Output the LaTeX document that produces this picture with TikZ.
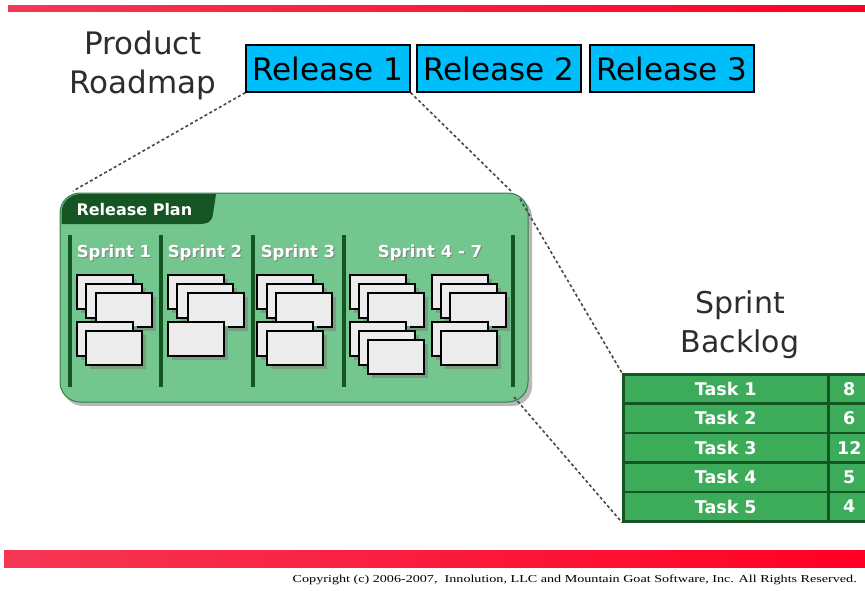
\documentclass[tikz,border=0pt]{standalone}
\usepackage{fontspec}
\setmainfont{DejaVu Sans}
\newfontfamily\copyfont{Liberation Serif}
\usetikzlibrary{calc}

\definecolor{relblue}{RGB}{0,190,250}
\definecolor{plangreen}{RGB}{114,198,142}
\definecolor{planedge}{RGB}{55,125,75}
\definecolor{darkgreen}{RGB}{20,85,35}
\definecolor{taskgreen}{RGB}{60,172,90}
\definecolor{cardfill}{RGB}{236,236,236}
\definecolor{cardshadow}{RGB}{118,158,128}
\definecolor{redL}{RGB}{245,55,85}
\definecolor{redR}{RGB}{255,0,35}
\definecolor{inktext}{RGB}{45,45,45}
\definecolor{dashgray}{RGB}{70,70,70}

% one story card with its drop shadow; #1,#2 = top-left corner
\newcommand\storycard[2]{%
  \fill[cardshadow] ({#1+4},{#2+4}) rectangle ++(56,34);
  \draw[fill=cardfill, line width=1.1pt] (#1,#2) rectangle ++(56,34);
}

\begin{document}
\begin{tikzpicture}[x=1pt,y=-1pt,
  release/.style={draw=black, line width=1.2pt, fill=relblue,
    minimum width=164pt, minimum height=47pt, inner sep=0pt,
    font=\fontsize{31}{31}\selectfont},
  heading/.style={align=center, text=inktext,
    font=\fontsize{31}{39}\selectfont},
  zoomline/.style={draw=dashgray, line width=1.6pt, dash pattern=on 3pt off 2.5pt},
  sprintbar/.style={fill=darkgreen},
  sprintlabel/.style={text=white, font=\bfseries\fontsize{16.5}{16.5}\selectfont},
  sprintshade/.style={text=black!50, font=\bfseries\fontsize{16.5}{16.5}\selectfont},
  taskcell/.style={draw=darkgreen, line width=2.5pt, fill=taskgreen,
    anchor=north west, minimum height=29.4pt, inner sep=0pt, text=white,
    font=\bfseries\fontsize{17.5}{17.5}\selectfont},
]
\useasboundingbox (0,0) rectangle (865,590);
\clip (0,0) rectangle (865,590);

% red rules at top and bottom
\shade[left color=redL, right color=redR] (8,5) rectangle (865,11);
\shade[left color=redL, right color=redR] (4,550) rectangle (865,567);

% product roadmap
\node[heading] (roadmap) at (143,65) {Product\\Roadmap};
\node[release] (r1) at (328,68.5) {Release 1};
\node[release] (r2) at (499,68.5) {Release 2};
\node[release] (r3) at (672,68.5) {Release 3};

% release plan panel
\fill[black!28, rounded corners=20pt] (63,197) rectangle (532,406);
\node[draw=planedge, line width=1pt, fill=plangreen, rounded corners=20pt,
  minimum width=468pt, minimum height=209pt, inner sep=0pt] (rp) at (294,297.5) {};
\fill[darkgreen] (61.5,224) -- (61.5,213)
  arc[start angle=180, end angle=270, radius=19]
  -- (216,194) -- (213,214) .. controls (212,222) and (208,224) .. (198,224) -- cycle;
\node[anchor=west, text=white, font=\bfseries\fontsize{16}{16}\selectfont]
  (rptitle) at (73,210) {Release Plan};

% sprint dividers
\foreach \bx in {70,161,253,344,513}
  \fill[sprintbar] ({\bx-2.2},235) rectangle ({\bx+2.2},387);

% sprint headings
\foreach \sx/\name/\txt in {114/s1/Sprint 1, 205/s2/Sprint 2, 298/s3/Sprint 3, 430/s4/Sprint 4 - 7}{
  \node[sprintshade] at ({\sx+1},254) {\txt};
  \node[sprintlabel] (\name) at (\sx,253) {\txt};
}

% story cards in each sprint
\foreach \cx/\cy in {77/275, 86/284, 96/293, 77/322, 86/331,
                     168/275, 177/284, 188/293, 168/322,
                     257/275, 267/284, 276/293, 257/322, 267/331,
                     350/275, 359/284, 368/293, 350/322, 359/331, 368/340,
                     432/275, 441/284, 450/293, 432/322, 441/331}{
  \storycard{\cx}{\cy}
}

% sprint backlog
\node[heading, font=\fontsize{30}{39}\selectfont] (backlog) at (740,325) {Sprint\\Backlog};
\foreach \i/\pts in {1/8, 2/6, 3/12, 4/5, 5/4}{
  \node[taskcell, minimum width=205pt] (t\i) at (622,{373+(\i-1)*29.4}) {Task \i};
  \node[taskcell, minimum width=42pt] (v\i) at (827,{373+(\i-1)*29.4}) {\pts};
}

% zoom connectors
\coordinate (rpTL) at (73,191);
\coordinate (rpTR) at (512,192);
\coordinate (rpTR2) at (520,199);
\coordinate (rpBR) at (514,397);
\draw[zoomline] (r1.south west) -- (rpTL);
\draw[zoomline] (r1.south east) -- (rpTR);
\draw[zoomline] (rpTR2) -- (t1.north west);
\draw[zoomline] (rpBR) -- (t5.south west);

% copyright line
\node[anchor=east, inner sep=0pt] (copy) at (857,580)
  {\resizebox{564pt}{7.5pt}{\copyfont Copyright (c) 2006-2007,\ \ Innolution, LLC and Mountain Goat Software, Inc. All Rights Reserved.}};
\end{tikzpicture}
\end{document}
